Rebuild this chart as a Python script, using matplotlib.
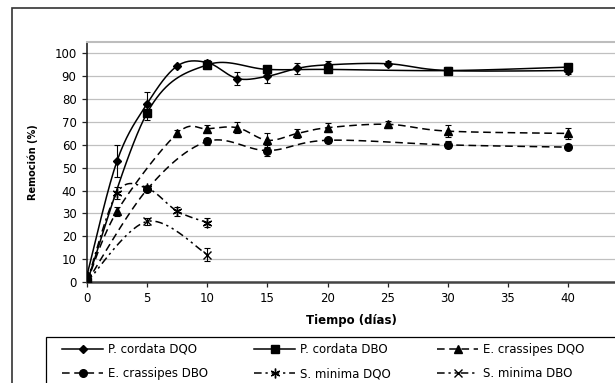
import matplotlib.pyplot as plt
import matplotlib.patches as patches
import numpy as np

plt.rcParams['font.family'] = ['DejaVu Sans']

# data
pc_dqo_x = [0, 2.5, 5, 7.5, 10, 12.5, 15, 17.5, 20, 25, 30, 40]
pc_dqo_y = [3, 53, 78, 94.5, 96, 89, 90, 93.5, 95, 95.5, 92.5, 92.5]
pc_dqo_e = [1, 7, 5, 0.5, 1, 3, 3, 2.5, 1.5, 1, 1.5, 1.5]

pc_dbo_x = [0, 5, 10, 15, 20, 30, 40]
pc_dbo_y = [0, 74, 95, 93, 93, 92.5, 94]
pc_dbo_e = [0.5, 3, 2, 1.5, 1.5, 1.5, 1.5]

ec_dqo_x = [0, 2.5, 7.5, 10, 12.5, 15, 17.5, 20, 25, 30, 40]
ec_dqo_y = [0, 31, 65, 67, 67.5, 62, 65, 67.5, 69, 66, 65]
ec_dqo_e = [0.5, 2, 1.5, 1.5, 2.5, 3, 2, 2, 1.5, 2.5, 2.5]

ec_dbo_x = [0, 5, 10, 15, 20, 30, 40]
ec_dbo_y = [0, 40.5, 61.5, 57.5, 62, 60, 59]
ec_dbo_e = [0.5, 1, 1.5, 2.5, 1, 1.5, 1]

sm_dqo_x = [0, 2.5, 5, 7.5, 10]
sm_dqo_y = [0, 39, 41, 31, 26]
sm_dqo_e = [0.5, 2.5, 1, 2, 2]

sm_dbo_x = [0, 5, 10]
sm_dbo_y = [0, 26.5, 12]
sm_dbo_e = [0.5, 1.5, 3]


def smooth(x, y, n=20):
    # Catmull-Rom curve through the points, like Excel's smoothed line
    p = np.column_stack([x, y]).astype(float)
    p = np.vstack([p[0], p, p[-1]])
    out = []
    for i in range(1, len(p) - 2):
        p0, p1, p2, p3 = p[i - 1], p[i], p[i + 1], p[i + 2]
        t = np.linspace(0, 1, n)[:, None]
        seg = 0.5 * ((2 * p1) + (-p0 + p2) * t + (2 * p0 - 5 * p1 + 4 * p2 - p3) * t ** 2
                     + (-p0 + 3 * p1 - 3 * p2 + p3) * t ** 3)
        out.append(seg)
    out = np.vstack(out)
    return out[:, 0], out[:, 1]


fig = plt.figure(figsize=(6.15, 3.83), dpi=100)
ax = fig.add_axes([87 / 615, 1 - 282 / 383, 1 - 87 / 615, 240 / 383])

series = [
    (pc_dqo_x, pc_dqo_y, pc_dqo_e, 'D', '-', 'P. cordata DQO', 4.5),
    (pc_dbo_x, pc_dbo_y, pc_dbo_e, 's', '-', 'P. cordata DBO', 5.5),
    (ec_dqo_x, ec_dqo_y, ec_dqo_e, '^', (0, (5, 3)), 'E. crassipes DQO', 6),
    (ec_dbo_x, ec_dbo_y, ec_dbo_e, 'o', (0, (5, 3)), 'E. crassipes DBO', 5.5),
    (sm_dqo_x, sm_dqo_y, sm_dqo_e, (6, 2, 0), (0, (5, 2.5, 1.5, 2.5)), 'S. minima DQO', 7),
    (sm_dbo_x, sm_dbo_y, sm_dbo_e, 'x', (0, (5, 2.5, 1.5, 2.5, 1.5, 2.5)), 'S. minima DBO', 6),
]

handles = []
for x, y, e, m, ls, lab, ms in series:
    sx, sy = smooth(x, y)
    ax.plot(sx, sy, color='black', lw=1.1, ls=ls, zorder=3)
    ax.errorbar(x, y, yerr=e, fmt='none', ecolor='black', elinewidth=0.8,
                capsize=2.5, capthick=0.8, zorder=3)
    ax.plot(x, y, ls='none', marker=m, color='black', markersize=ms,
            markeredgewidth=1.0, zorder=4)
    h, = ax.plot([], [], color='black', lw=1.1, ls=ls, marker=m,
                 markersize=ms, markeredgewidth=1.0, label=lab)
    handles.append(h)

ax.set_xlim(0, 43.9)
ax.set_ylim(0, 105)
ax.set_xticks(np.arange(0, 41, 5))
ax.set_yticks(np.arange(0, 101, 10))
ax.yaxis.grid(True, color='#c0c0c0', lw=0.9)
ax.set_axisbelow(True)
ax.tick_params(labelsize=8.5, length=3.5, width=0.9, colors='#222222', pad=4)
ax.tick_params(labelcolor='black')
ax.spines['right'].set_visible(False)
ax.spines['top'].set_color('#bdbdbd')
ax.spines['top'].set_linewidth(1.5)
ax.spines['left'].set_color('#222222')
ax.spines['left'].set_linewidth(1.2)
ax.spines['bottom'].set_color('#444444')
ax.spines['bottom'].set_linewidth(1.8)

ax.set_xlabel('Tiempo (días)', fontsize=8.5, fontweight='bold', labelpad=6)
ax.set_ylabel('Remoción (%)', fontsize=7, fontweight='bold', labelpad=12)

# outer chart frame
fig.patches.append(patches.Rectangle((12 / 615, -0.1), 1.2, 1 - 8 / 383 + 0.1,
                                     transform=fig.transFigure, fill=False,
                                     edgecolor='#333333', lw=1.2))
# legend frame (runs past the image edge, as in the reference)
fig.patches.append(patches.Rectangle((46 / 615, -0.1), 1.2, 1 - 337 / 383 + 0.1,
                                     transform=fig.transFigure, fill=False,
                                     edgecolor='black', lw=0.9))

# row-major order for the 3-column legend
order = [0, 3, 1, 4, 2, 5]
fig.legend(handles=[handles[i] for i in order], loc='upper left', ncol=3,
           bbox_to_anchor=(62 / 615, 1 - 343 / 383), fontsize=8.5,
           frameon=False, handlelength=3.5, handletextpad=0.4,
           borderaxespad=0, borderpad=0, labelspacing=0.95,
           columnspacing=3.9)

fig.savefig('out.png', dpi=100)
